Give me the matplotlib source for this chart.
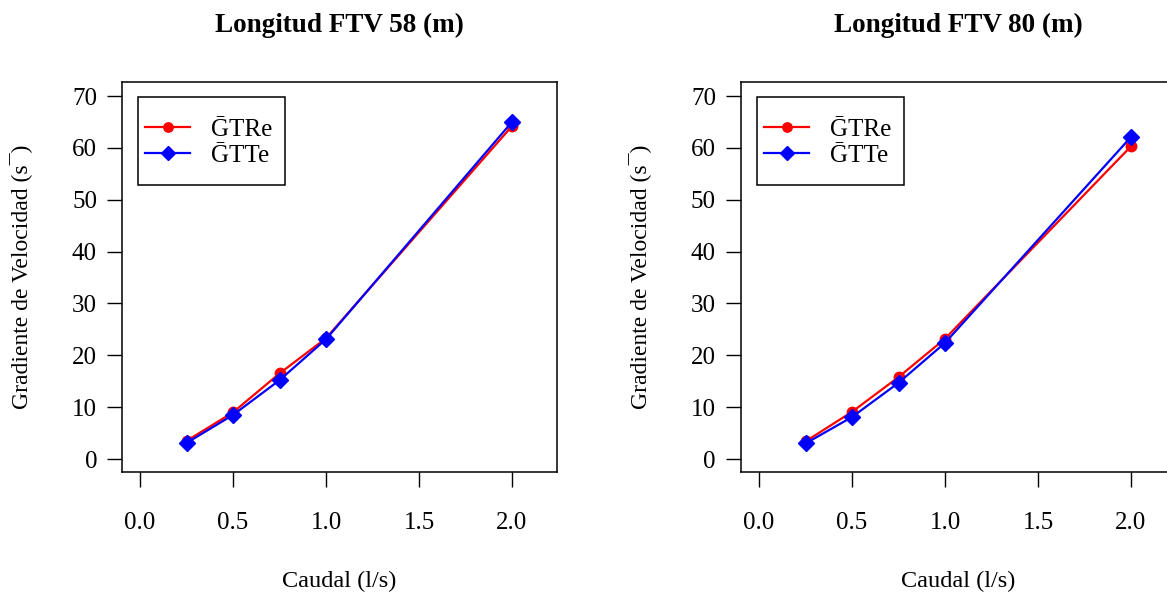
import matplotlib
matplotlib.use("Agg")
import matplotlib.pyplot as plt
from matplotlib.patches import Rectangle

plt.rcParams["font.family"] = ["Liberation Serif", "DejaVu Serif"]

# Caudal (l/s)
caudal = [0.25, 0.5, 0.75, 1.0, 2.0]

# Longitud FTV 58 m
gtre_58 = [3.5, 9.0, 16.5, 23.3, 64.2]
gtte_58 = [3.1, 8.5, 15.2, 23.1, 65.0]

# Longitud FTV 80 m
gtre_80 = [3.4, 9.1, 15.8, 23.2, 60.3]
gtte_80 = [3.0, 8.1, 14.7, 22.4, 62.1]

titles = ["Longitud FTV 58 (m)", "Longitud FTV 80 (m)"]
xticks = [0.0, 0.5, 1.0, 1.5, 2.0]
yticks = [0, 10, 20, 30, 40, 50, 60, 70]

W, H = 1167, 592
fig = plt.figure(figsize=(W / 100, H / 100), dpi=100)

panels = [(122, gtre_58, gtte_58), (741, gtre_80, gtte_80)]
for i, (left, gtre, gtte) in enumerate(panels):
    ax = fig.add_axes([left / W, (H - 472) / H, 435 / W, 390 / H])
    ax.plot(caudal, gtre, color="red", lw=1.6, marker="o", ms=7.5,
            label="\u1E20TRe")
    ax.plot(caudal, gtte, color="blue", lw=1.6, marker="D", ms=8,
            label="\u1E20TTe")
    ax.set_xlim(-0.097, 2.242)
    ax.set_ylim(-2.5, 72.7)
    ax.set_xticks(xticks)
    ax.set_xticklabels(["%.1f" % v for v in xticks])
    ax.set_yticks(yticks)
    ax.tick_params(length=11, width=1.0, labelsize=18)
    ax.tick_params(axis="x", pad=18)
    ax.tick_params(axis="y", pad=7)
    for s in ax.spines.values():
        s.set_linewidth(1.1)
    ax.set_title(titles[i], fontsize=19.5, fontweight="bold", pad=36)
    ax.set_xlabel("Caudal (l/s)", fontsize=17.5, labelpad=26)
    ax.set_ylabel("Gradiente de Velocidad (s\u00AF)", fontsize=17,
                  labelpad=28)

    # legend box drawn separately so the padding can differ per side
    ax.add_patch(Rectangle((0.0368, 0.7359), 0.3379, 0.2256,
                           transform=ax.transAxes, fill=False,
                           edgecolor="black", lw=1.1, zorder=5))
    ax.legend(loc="upper left", bbox_to_anchor=(0.0529, 0.906),
              borderaxespad=0, borderpad=0, fontsize=18, frameon=False,
              markerscale=0.9, handlelength=1.8, handletextpad=0.85,
              labelspacing=0.12)

fig.savefig("out.png", dpi=100)
